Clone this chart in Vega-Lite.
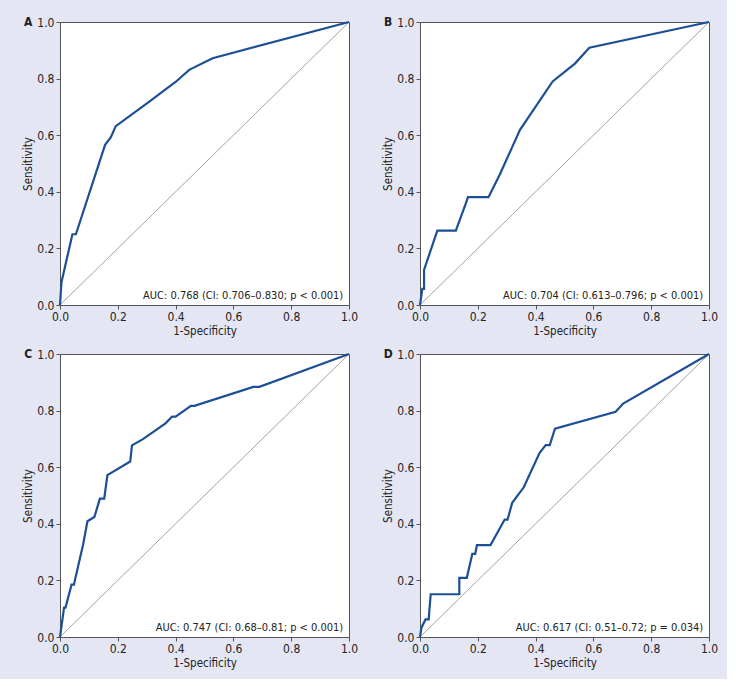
{
  "$schema": "https://vega.github.io/schema/vega-lite/v6.json",
  "background": "#e4e7f3",
  "padding": {"left": 22, "top": 15, "right": 8, "bottom": 10},
  "data": {"values": [
    {"p":"A","x":0,"y":0},{"p":"A","x":0.005,"y":0.08},{"p":"A","x":0.043,"y":0.25},{"p":"A","x":0.055,"y":0.25},{"p":"A","x":0.156,"y":0.566},{"p":"A","x":0.176,"y":0.593},{"p":"A","x":0.193,"y":0.632},{"p":"A","x":0.309,"y":0.719},{"p":"A","x":0.401,"y":0.789},{"p":"A","x":0.447,"y":0.831},{"p":"A","x":0.528,"y":0.872},{"p":"A","x":1,"y":1},
    {"p":"B","x":0,"y":0},{"p":"B","x":0.008,"y":0.057},{"p":"B","x":0.014,"y":0.057},{"p":"B","x":0.014,"y":0.124},{"p":"B","x":0.06,"y":0.263},{"p":"B","x":0.124,"y":0.263},{"p":"B","x":0.158,"y":0.357},{"p":"B","x":0.166,"y":0.381},{"p":"B","x":0.237,"y":0.381},{"p":"B","x":0.277,"y":0.463},{"p":"B","x":0.346,"y":0.619},{"p":"B","x":0.459,"y":0.79},{"p":"B","x":0.536,"y":0.853},{"p":"B","x":0.586,"y":0.909},{"p":"B","x":1,"y":1},
    {"p":"C","x":0,"y":0},{"p":"C","x":0.014,"y":0.104},{"p":"C","x":0.019,"y":0.104},{"p":"C","x":0.04,"y":0.185},{"p":"C","x":0.048,"y":0.185},{"p":"C","x":0.08,"y":0.327},{"p":"C","x":0.095,"y":0.409},{"p":"C","x":0.119,"y":0.424},{"p":"C","x":0.138,"y":0.489},{"p":"C","x":0.153,"y":0.489},{"p":"C","x":0.164,"y":0.572},{"p":"C","x":0.243,"y":0.62},{"p":"C","x":0.249,"y":0.677},{"p":"C","x":0.287,"y":0.699},{"p":"C","x":0.365,"y":0.755},{"p":"C","x":0.388,"y":0.779},{"p":"C","x":0.4,"y":0.779},{"p":"C","x":0.453,"y":0.817},{"p":"C","x":0.465,"y":0.817},{"p":"C","x":0.669,"y":0.884},{"p":"C","x":0.69,"y":0.884},{"p":"C","x":1,"y":1},
    {"p":"D","x":0,"y":0},{"p":"D","x":0.005,"y":0.033},{"p":"D","x":0.019,"y":0.062},{"p":"D","x":0.03,"y":0.062},{"p":"D","x":0.037,"y":0.151},{"p":"D","x":0.136,"y":0.151},{"p":"D","x":0.136,"y":0.209},{"p":"D","x":0.162,"y":0.209},{"p":"D","x":0.181,"y":0.294},{"p":"D","x":0.191,"y":0.294},{"p":"D","x":0.197,"y":0.325},{"p":"D","x":0.244,"y":0.325},{"p":"D","x":0.293,"y":0.415},{"p":"D","x":0.303,"y":0.415},{"p":"D","x":0.319,"y":0.474},{"p":"D","x":0.359,"y":0.529},{"p":"D","x":0.414,"y":0.651},{"p":"D","x":0.435,"y":0.678},{"p":"D","x":0.449,"y":0.678},{"p":"D","x":0.467,"y":0.736},{"p":"D","x":0.677,"y":0.796},{"p":"D","x":0.703,"y":0.825},{"p":"D","x":1,"y":1},
    {"p":"A","auc":"AUC: 0.768 (CI: 0.706–0.830; p < 0.001)"},
    {"p":"B","auc":"AUC: 0.704 (CI: 0.613–0.796; p < 0.001)"},
    {"p":"C","auc":"AUC: 0.747 (CI: 0.68–0.81; p < 0.001)"},
    {"p":"D","auc":"AUC: 0.617 (CI: 0.51–0.72; p = 0.034)"}
  ]},
  "facet": {"field": "p", "type": "nominal", "title": null, "header": {"title": null, "labels": false, "labelExpr": "''", "labelFontSize": 0, "labelPadding": 0, "titlePadding": 0}},
  "columns": 2,
  "spacing": {"row": 49, "column": 71},
  "bounds": "flush",
  "resolve": {"axis": {"x": "independent", "y": "independent"}},
  "spec": {
    "width": 289,
    "height": 283,
    "layer": [
      {
        "transform": [{"filter": "isValid(datum.auc)"}],
        "mark": {"type": "rule", "color": "#7a7a7a", "strokeWidth": 0.7},
        "encoding": {
          "x": {"datum": 0, "type": "quantitative"},
          "y": {"datum": 0, "type": "quantitative"},
          "x2": {"datum": 1},
          "y2": {"datum": 1}
        }
      },
      {
        "transform": [{"filter": "isValid(datum.x)"}],
        "mark": {"type": "line", "color": "#1c4f95", "strokeWidth": 2.2},
        "encoding": {
          "x": {"field": "x", "type": "quantitative", "scale": {"domain": [0, 1], "nice": false, "zero": false},
                "axis": {"title": "1-Specificity", "values": [0, 0.2, 0.4, 0.6, 0.8, 1], "format": ".1f"}},
          "y": {"field": "y", "type": "quantitative", "scale": {"domain": [0, 1], "nice": false, "zero": false},
                "axis": {"title": "Sensitivity", "values": [0, 0.2, 0.4, 0.6, 0.8, 1], "format": ".1f"}},
          "order": [{"field": "x", "type": "quantitative"}, {"field": "y", "type": "quantitative"}]
        }
      },
      {
        "transform": [{"filter": "isValid(datum.auc)"}],
        "mark": {"type": "text", "align": "right", "baseline": "alphabetic", "fontSize": 11, "color": "#222222"},
        "encoding": {
          "x": {"datum": 0.98, "type": "quantitative"},
          "y": {"datum": 0.022, "type": "quantitative"},
          "text": {"field": "auc"}
        }
      },
      {
        "transform": [{"filter": "isValid(datum.auc)"}],
        "mark": {"type": "text", "align": "center", "baseline": "middle", "fontSize": 12, "fontWeight": "bold", "color": "#222222"},
        "encoding": {
          "x": {"datum": -0.11, "type": "quantitative"},
          "y": {"datum": 1, "type": "quantitative"},
          "text": {"field": "p"}
        }
      }
    ]
  },
  "config": {
    "font": "DejaVu Sans Condensed, Liberation Sans, sans-serif",
    "header": {"labels": false, "title": null},
    "view": {"stroke": "#555555", "strokeWidth": 1, "fill": "white"},
    "axis": {
      "grid": false,
      "domainColor": "#555555",
      "tickColor": "#555555",
      "tickSize": 4,
      "labelFontSize": 12,
      "labelColor": "#222222",
      "labelFlush": false,
      "labelOverlap": false,
      "labelPadding": 2,
      "titleFontSize": 11.5,
      "titleFontWeight": "normal",
      "titleColor": "#222222",
      "titlePadding": 3
    }
  }
}
